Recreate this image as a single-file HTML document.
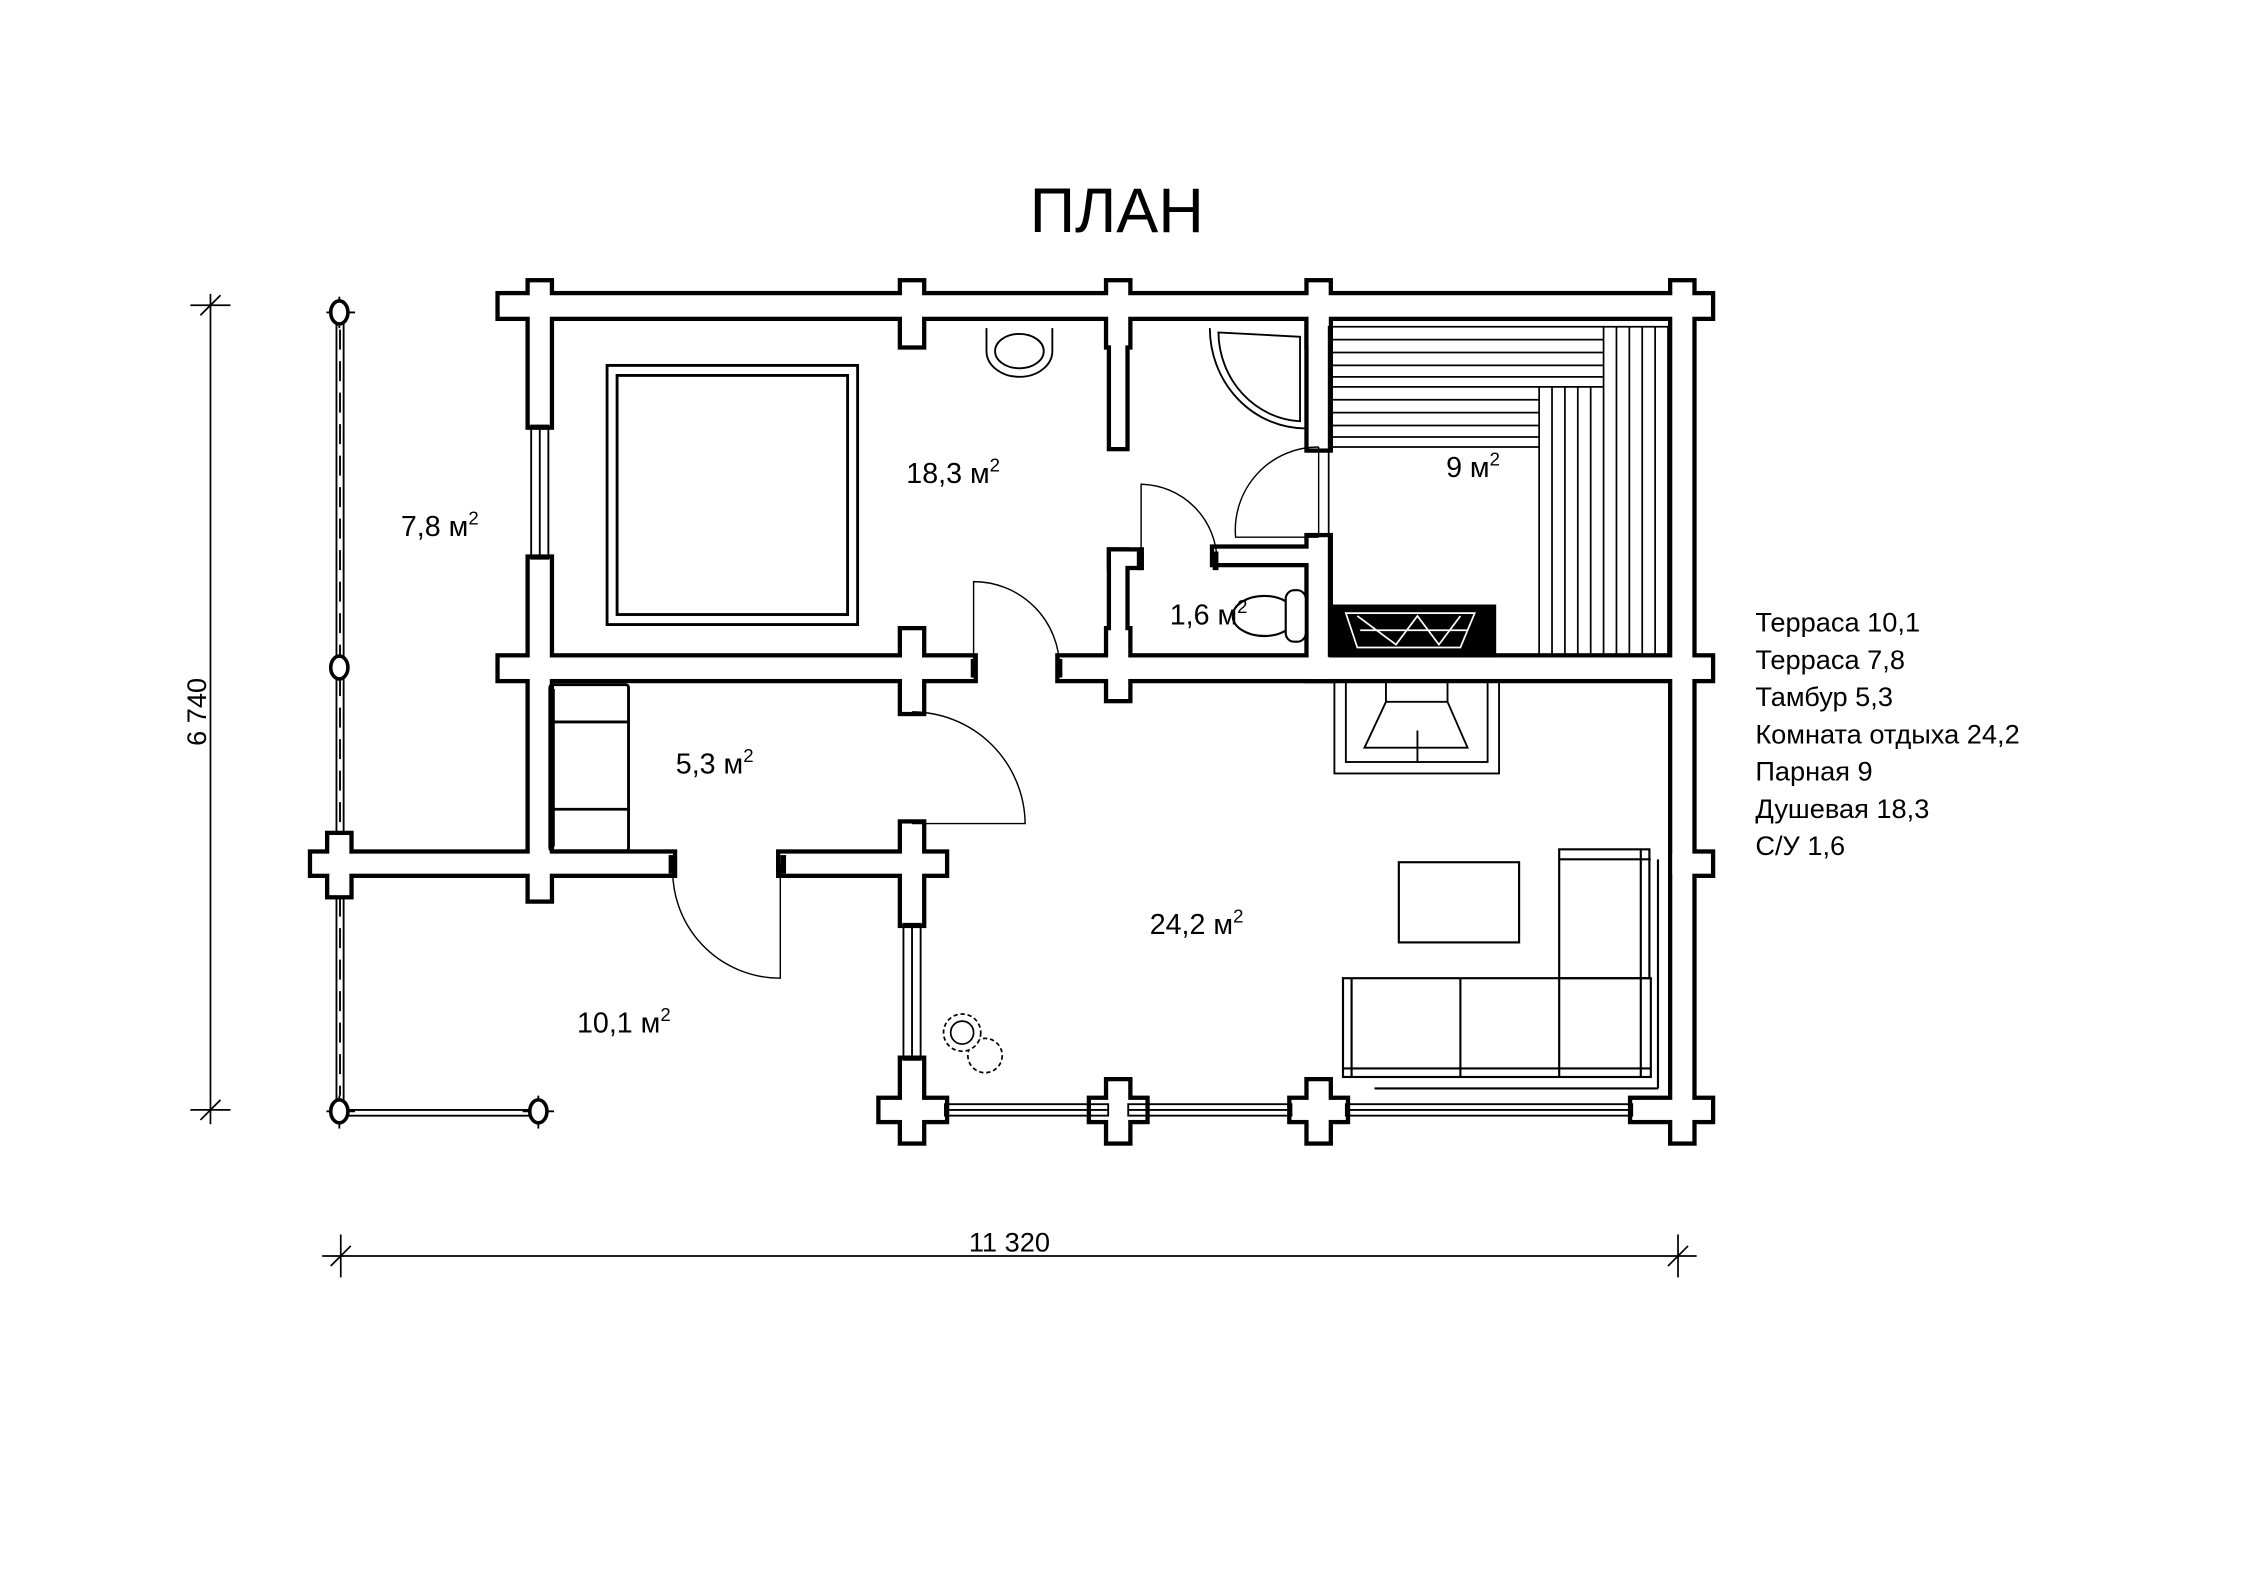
<!DOCTYPE html>
<html><head><meta charset="utf-8"><style>
html,body{margin:0;padding:0;background:#fff;}
svg{display:block;}
text{font-family:"Liberation Sans",sans-serif;fill:#000;}
</style></head><body>
<svg width="2245" height="1587" viewBox="0 0 1568 1108" xmlns="http://www.w3.org/2000/svg">
<rect width="1568" height="1108" fill="#fff"/>
<text x="780" y="162" font-size="44" text-anchor="middle">ПЛАН</text>

<g stroke="#000" fill="none" stroke-width="1.3">
<line x1="235" y1="218" x2="235" y2="775"/><line x1="240" y1="218" x2="240" y2="775"/>
<line x1="237" y1="775" x2="375" y2="775"/><line x1="237" y1="779" x2="375" y2="779"/>
<line x1="237.5" y1="230" x2="237.5" y2="765" stroke-dasharray="14 8"/>
<line x1="228" y1="218" x2="248" y2="218"/><line x1="237" y1="207" x2="237" y2="229"/>
<line x1="228" y1="776" x2="248" y2="776"/><line x1="237" y1="765" x2="237" y2="788"/>
<line x1="365" y1="776" x2="387" y2="776"/><line x1="376" y1="765" x2="376" y2="788"/>
</g>
<g stroke="#000" fill="#fff" stroke-width="2.5">
<ellipse cx="237" cy="218" rx="6" ry="8"/><ellipse cx="237" cy="466" rx="6" ry="8"/>
<ellipse cx="237" cy="776" rx="6" ry="8"/><ellipse cx="376" cy="776" rx="6" ry="8"/>
</g>

<g id="w" stroke="#000" stroke-width="6" fill="#000">
<rect x="349" y="206" width="846" height="15"/>
<rect x="370" y="197" width="14" height="100"/>
<rect x="370" y="390" width="14" height="238"/>
<rect x="630" y="197" width="14" height="44"/>
<rect x="774" y="197" width="14" height="44"/>
<rect x="914" y="197" width="14" height="44"/>
<rect x="1168" y="197" width="14" height="600"/>
<rect x="776" y="228" width="10" height="84"/>
<rect x="914" y="213" width="14" height="100"/>
<rect x="914" y="375" width="14" height="99"/>
<rect x="349" y="459" width="331" height="15"/>
<rect x="740" y="459" width="455" height="15"/>
<rect x="630" y="440" width="14" height="57"/>
<rect x="774" y="440" width="14" height="48"/>
<rect x="776" y="385" width="10" height="80"/>
<rect x="776" y="385" width="20" height="10"/>
<rect x="848" y="383" width="67" height="10"/>
<rect x="218" y="596" width="252" height="14"/>
<rect x="545" y="596" width="115" height="14"/>
<rect x="230" y="583" width="14" height="42"/>
<rect x="1168" y="596" width="27" height="14"/>
<rect x="630" y="575" width="14" height="70"/>
<rect x="630" y="740" width="14" height="57"/>
<rect x="615" y="768" width="45" height="14"/>
<rect x="774" y="755" width="14" height="42"/>
<rect x="762" y="768" width="38" height="14"/>
<rect x="914" y="755" width="14" height="42"/>
<rect x="902" y="768" width="38" height="14"/>
<rect x="1140" y="768" width="55" height="14"/>
</g>
<g fill="#fff" stroke="none">
<rect x="349" y="206" width="846" height="15"/>
<rect x="370" y="197" width="14" height="100"/>
<rect x="370" y="390" width="14" height="238"/>
<rect x="630" y="197" width="14" height="44"/>
<rect x="774" y="197" width="14" height="44"/>
<rect x="914" y="197" width="14" height="44"/>
<rect x="1168" y="197" width="14" height="600"/>
<rect x="776" y="218" width="10" height="94"/>
<rect x="914" y="213" width="14" height="100"/>
<rect x="914" y="375" width="14" height="99"/>
<rect x="349" y="459" width="331" height="15"/>
<rect x="740" y="459" width="455" height="15"/>
<rect x="630" y="440" width="14" height="57"/>
<rect x="774" y="440" width="14" height="48"/>
<rect x="776" y="385" width="10" height="80"/>
<rect x="776" y="385" width="20" height="10"/>
<rect x="848" y="383" width="70" height="10"/>
<rect x="218" y="596" width="252" height="14"/>
<rect x="545" y="596" width="115" height="14"/>
<rect x="230" y="583" width="14" height="42"/>
<rect x="1168" y="596" width="27" height="14"/>
<rect x="630" y="575" width="14" height="70"/>
<rect x="630" y="740" width="14" height="57"/>
<rect x="615" y="768" width="45" height="14"/>
<rect x="774" y="755" width="14" height="42"/>
<rect x="762" y="768" width="38" height="14"/>
<rect x="914" y="755" width="14" height="42"/>
<rect x="902" y="768" width="38" height="14"/>
<rect x="1140" y="768" width="55" height="14"/>
</g>

<g stroke="#000" fill="none" stroke-width="1.3">
<rect x="371" y="297" width="12" height="93"/><line x1="377" y1="297" x2="377" y2="390"/>
<rect x="631" y="645" width="12" height="95"/><line x1="637" y1="645" x2="637" y2="740"/>
<rect x="660" y="771" width="114" height="8"/><line x1="660" y1="775" x2="774" y2="775"/>
<rect x="788" y="771" width="114" height="8"/><line x1="788" y1="775" x2="902" y2="775"/>
<rect x="940" y="771" width="200" height="8"/><line x1="940" y1="775" x2="1140" y2="775"/>
</g>

<g stroke="#000" fill="none" stroke-width="1">
<path d="M680 466 V406 A60 60 0 0 1 740 466"/>
<path d="M797 392 V338 A54 54 0 0 1 850 392"/>
<path d="M921 312 A58 58 0 0 0 863 375 H921"/>
<line x1="921" y1="312" x2="921" y2="375"/>
<path d="M637 497 A79 79 0 0 1 716 575 H637"/>
<path d="M470 603 A75 75 0 0 0 545 683 V603"/>
</g>
<g fill="#000">
<rect x="678" y="460" width="4" height="13"/><rect x="738" y="460" width="4" height="13"/>
<rect x="794" y="385" width="4" height="13"/><rect x="847" y="385" width="4" height="13"/>
<rect x="467" y="597" width="4" height="13"/><rect x="545" y="597" width="4" height="13"/>
</g>

<g stroke="#000" fill="none" stroke-width="2">
<rect x="424" y="255" width="175" height="181"/><rect x="431" y="262" width="161" height="167"/>
<path d="M689 229 V245 A23 18 0 0 0 735 245 V229" stroke-width="1.3"/>
<ellipse cx="712" cy="245" rx="17" ry="12" stroke-width="1.3"/>
<path d="M845 229 A67 70 0 0 0 912 299 V229" stroke-width="1.3"/>
<path d="M851 232 A60 63 0 0 0 908 294 V235 Z" stroke-width="1.3"/>
</g>
<g stroke="#000" stroke-width="1.2" fill="none">
<rect x="928" y="228" width="237" height="230"/>
<line x1="1120" y1="228" x2="1120" y2="270"/>
<line x1="928" y1="270" x2="1120" y2="270"/>
<line x1="1075" y1="270" x2="1075" y2="458"/>
<line x1="928" y1="312" x2="1075" y2="312"/>
<path d="M928 237H1120M928 246H1120M928 255H1120M928 263H1120M928 279H1075M928 288H1075M928 297H1075M928 305H1075"/>
<path d="M1084 270V458M1093 270V458M1102 270V458M1111 270V458M1120 270V458M1129 228V458M1138 228V458M1147 228V458M1156 228V458"/>
</g>
<rect x="930" y="422" width="115" height="37" fill="#000"/>
<path d="M940 428 L1030 428 L1020 452 L948 452 Z M948 430 L975 450 L990 430 L1005 450 L1020 430 M950 440 L1025 440" stroke="#fff" stroke-width="1.2" fill="none"/>
<g stroke="#000" stroke-width="1.5" fill="#fff">
<ellipse cx="883" cy="430" rx="22" ry="14"/>
<rect x="898" y="412" width="14" height="36" rx="6"/>
</g>
<g stroke="#000" stroke-width="1.3" fill="none">
<rect x="932" y="475" width="115" height="65"/>
<rect x="940" y="475" width="99" height="57"/>
<path d="M968 475 V490 L953 522 H1025 L1011 490 V475"/>
<line x1="968" y1="490" x2="1011" y2="490"/>
<line x1="990" y1="510" x2="990" y2="532"/>
</g>
<g stroke="#000" stroke-width="2" fill="none">
<rect x="384" y="478" width="55" height="116" rx="2"/>
<line x1="387" y1="481" x2="387" y2="591" stroke-width="1"/>
<line x1="384" y1="504" x2="439" y2="504"/><line x1="384" y1="565" x2="439" y2="565"/>
</g>
<g stroke="#000" stroke-width="1.5" fill="none">
<rect x="977" y="602" width="84" height="56"/>
<rect x="938" y="683" width="215" height="69"/>
<rect x="1089" y="593" width="63" height="90"/>
<line x1="1020" y1="683" x2="1020" y2="752"/><line x1="1089" y1="683" x2="1089" y2="752"/>
<line x1="944" y1="683" x2="944" y2="752"/><line x1="938" y1="746" x2="1153" y2="746"/>
<line x1="1146" y1="593" x2="1146" y2="752"/><line x1="1089" y1="600" x2="1153" y2="600"/>
<line x1="1158" y1="600" x2="1158" y2="760"/><line x1="960" y1="760" x2="1158" y2="760"/>
</g>
<g stroke="#000" stroke-width="1.2" fill="#fff">
<circle cx="688" cy="737" r="12" stroke-dasharray="3 2"/>
<circle cx="672" cy="721" r="13" stroke-dasharray="3 2"/>
<circle cx="672" cy="721" r="8"/>
</g>

<g font-size="20">
<text x="280" y="374">7,8 м<tspan dy="-8" font-size="13">2</tspan></text>
<text x="633" y="337">18,3 м<tspan dy="-8" font-size="13">2</tspan></text>
<text x="1010" y="333">9 м<tspan dy="-8" font-size="13">2</tspan></text>
<text x="817" y="436">1,6 м<tspan dy="-8" font-size="13">2</tspan></text>
<text x="472" y="540">5,3 м<tspan dy="-8" font-size="13">2</tspan></text>
<text x="803" y="652">24,2 м<tspan dy="-8" font-size="13">2</tspan></text>
<text x="403" y="721">10,1 м<tspan dy="-8" font-size="13">2</tspan></text>
</g>
<g font-size="19">
<text x="1226" y="441">Терраса 10,1</text>
<text x="1226" y="467">Терраса 7,8</text>
<text x="1226" y="493">Тамбур 5,3</text>
<text x="1226" y="519">Комната отдыха 24,2</text>
<text x="1226" y="545">Парная 9</text>
<text x="1226" y="571">Душевая 18,3</text>
<text x="1226" y="597">С/У 1,6</text>
</g>

<g stroke="#000" stroke-width="1.2">
<line x1="147" y1="205" x2="147" y2="785"/>
<line x1="133" y1="213" x2="161" y2="213"/><line x1="140" y1="220" x2="154" y2="206"/>
<line x1="133" y1="775" x2="161" y2="775"/><line x1="140" y1="782" x2="154" y2="768"/>
<line x1="225" y1="877" x2="1185" y2="877"/>
<line x1="238" y1="862" x2="238" y2="892"/><line x1="231" y1="884" x2="245" y2="870"/>
<line x1="1172" y1="862" x2="1172" y2="892"/><line x1="1165" y1="884" x2="1179" y2="870"/>
</g>
<text x="705" y="874" font-size="19" text-anchor="middle">11 320</text>
<text transform="translate(144,497) rotate(-90)" font-size="19" text-anchor="middle">6 740</text>
</svg>
</body></html>
